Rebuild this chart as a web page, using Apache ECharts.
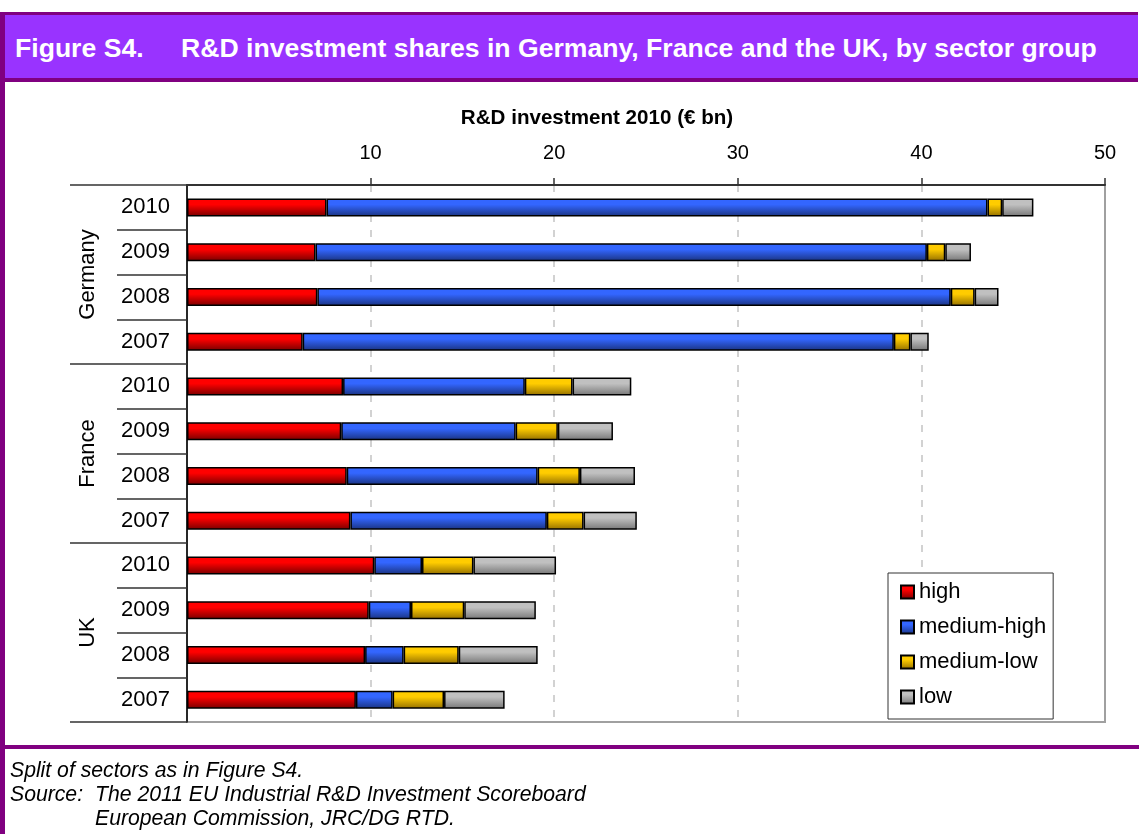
<!DOCTYPE html>
<html>
<head>
<meta charset="utf-8">
<script src="https://cdn.jsdelivr.net/npm/echarts@6/dist/echarts.min.js"></script>
<style>
  html, body { margin: 0; padding: 0; background: #fff; }
  body { width: 1139px; height: 834px; position: relative; overflow: hidden; font-family: "Liberation Sans", Arial, sans-serif; }
  #chart { position: absolute; left: 0; top: 0; width: 1139px; height: 834px; }
  .frame-left { position: absolute; left: 0; top: 12px; width: 5px; height: 822px; background: #800080; }
  .title-bar {
    position: absolute; left: 0; top: 12px; width: 1138px; height: 70px; box-sizing: border-box;
    border-top: 3px solid #800080; border-bottom: 4px solid #800080; background: #9933ff;
    color: #fff; font-weight: bold; font-size: 26.6px;
  }
  .title-bar span { position: absolute; top: 20px; line-height: 1; white-space: nowrap; }
  .bottom-line { position: absolute; left: 0; top: 745px; width: 1139px; height: 4px; background: #800080; }
  .footer {
    position: absolute; left: 10px; top: 758px; font-style: italic; font-size: 21.2px; line-height: 24px;
    color: #000; white-space: nowrap;
  }
  .footer div { position: relative; height: 24px; }
  .footer .tab { position: absolute; left: 85px; top: 0; }
</style>
</head>
<body>
<div id="chart"></div>
<div class="title-bar">
  <span style="left:15px">Figure S4.</span>
  <span style="left:181px">R&amp;D investment shares in Germany, France and the UK, by sector group</span>
</div>
<div class="frame-left"></div>
<div class="bottom-line"></div>
<div class="footer">
  <div>Split of sectors as in Figure S4.</div>
  <div>Source:<span class="tab">The 2011 EU Industrial R&amp;D Investment Scoreboard</span></div>
  <div><span class="tab">European Commission, JRC/DG RTD.</span></div>
</div>

<script>
// rows: every country, newest year on top
const countries = ['Germany', 'France', 'UK']
const years = ['2010', '2009', '2008', '2007']

// R&D investment in € bn per sector group (same row order as above)
const high       = [7.6, 7.0, 7.1, 6.3,   8.5, 8.4, 8.7, 8.9,   10.2, 9.9, 9.7, 9.2]
const mediumHigh = [36.0, 33.3, 34.5, 32.2, 9.9, 9.5, 10.4, 10.7, 2.6, 2.3, 2.1, 2.0]
const mediumLow  = [0.8, 1.0, 1.3, 0.9,   2.6, 2.3, 2.3, 2.0,   2.8, 2.9, 3.0, 2.8]
const low        = [1.7, 1.4, 1.3, 1.0,   3.2, 3.0, 3.0, 2.9,   4.5, 3.9, 4.3, 3.3]

const sectorNames = ['high', 'medium-high', 'medium-low', 'low']
const xTicks = [0, 10, 20, 30, 40, 50]

const rowKeys = []
countries.forEach(c => years.forEach(y => rowKeys.push(c + ' ' + y)))

const grad = (top, bottom) => new echarts.graphic.LinearGradient(0, 0, 0, 1, [
  {offset: 0, color: top},
  {offset: 0.35, color: top},
  {offset: 1, color: bottom}
])

const sectorData = [high, mediumHigh, mediumLow, low]
const sectorColors = [
  grad('#ff0000', '#780000'),
  grad('#3366ff', '#1a3380'),
  grad('#ffcc00', '#947000'),
  grad('#c0c0c0', '#777777')
]

const chart = echarts.init(document.getElementById('chart'))

const option = {
  animation: false,
  textStyle: {fontFamily: 'Liberation Sans, Arial, sans-serif'},
  grid: {
    left: 187, right: 34, top: 185, bottom: 112,
    show: true, borderColor: '#a0a0a0', borderWidth: 2
  },
  xAxis: {
    type: 'value',
    position: 'top',
    min: xTicks[0],
    max: xTicks[xTicks.length - 1],
    interval: xTicks[1] - xTicks[0],
    axisLine: {show: true, lineStyle: {color: '#333', width: 2}},
    axisTick: {show: true, length: 7, lineStyle: {color: '#333', width: 1.5}},
    axisLabel: {showMinLabel: false, color: '#000', fontSize: 20, margin: 22},
    splitLine: {
      show: true, showMinLine: false, showMaxLine: false,
      lineStyle: {color: '#c4c4c4', type: [7, 8], width: 1.5}
    }
  },
  yAxis: [
    {
      type: 'category',
      inverse: true,
      data: rowKeys,
      position: 'left',
      axisLine: {show: true, lineStyle: {color: '#000', width: 1.5}},
      axisTick: {show: true, interval: 0, length: 70, lineStyle: {color: '#333', width: 1.5}},
      axisLabel: {
        interval: 0, color: '#000', fontSize: 22, margin: 17,
        formatter: v => v.split(' ')[1]
      }
    },
    {
      type: 'category',
      inverse: true,
      data: countries,
      position: 'left',
      axisLine: {show: false},
      axisTick: {show: true, interval: 0, length: 117, lineStyle: {color: '#333', width: 1.5}},
      axisLabel: {interval: 0, color: '#000', fontSize: 22, rotate: 90, margin: 88}
    }
  ],
  legend: {
    orient: 'vertical',
    left: 888,
    top: 573,
    padding: [8, 7, 11, 12],
    itemGap: 13,
    itemWidth: 13,
    itemHeight: 13,
    icon: 'rect',
    backgroundColor: '#fff',
    borderColor: '#333',
    borderWidth: 1,
    textStyle: {fontSize: 22, color: '#000'},
    data: sectorNames
  },
  graphic: [
    {
      type: 'text',
      x: 597,
      y: 118,
      style: {
        text: 'R&D investment 2010 (€ bn)',
        font: 'bold 20.6px Liberation Sans, Arial, sans-serif',
        fill: '#000',
        align: 'center',
        verticalAlign: 'middle'
      }
    }
  ],
  series: sectorNames.map((name, i) => ({
    name: name,
    type: 'bar',
    stack: 'total',
    barWidth: 18,
    yAxisIndex: 0,
    data: sectorData[i],
    itemStyle: {color: sectorColors[i], borderColor: '#000', borderWidth: 1.5}
  }))
}

chart.setOption(option)
</script>
</body>
</html>
